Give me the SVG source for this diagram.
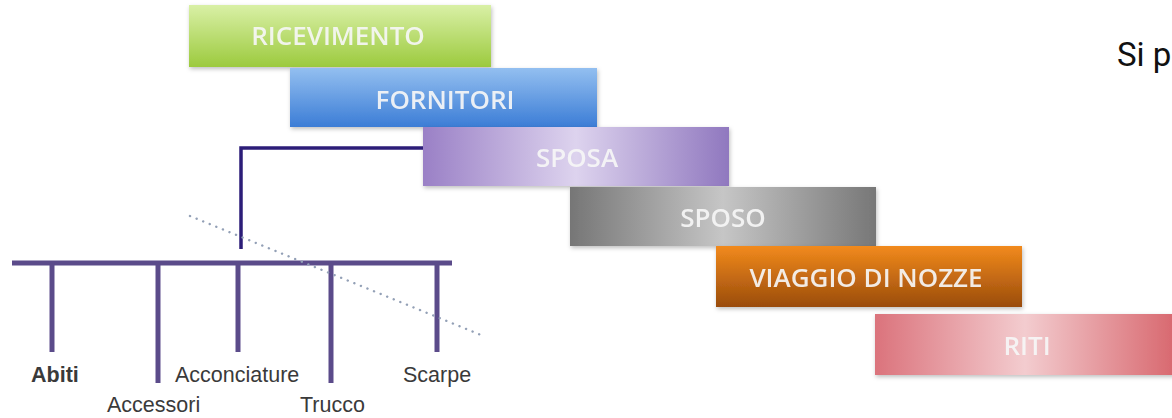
<svg xmlns="http://www.w3.org/2000/svg" width="1172" height="418" viewBox="0 0 1172 418">
  <style>
    .lbl { font-family: "Open Sans", "Liberation Sans", sans-serif; font-size: 26px; font-weight: 600; fill: #f6f6f6; fill-opacity: 0.92; text-anchor: middle; }
    .leaf { font-family: "Liberation Sans", Arial, sans-serif; font-size: 21.5px; fill: #3a3a3a; }
    .trunk { stroke: #5b4b8a; stroke-width: 5; fill: none; }
    .link { stroke: #2c1d78; stroke-width: 3.5; fill: none; }
  </style>
  <defs>
    <filter id="shadow" x="-5%" y="-10%" width="110%" height="130%">
      <feDropShadow dx="1" dy="2" stdDeviation="2" flood-color="#000" flood-opacity="0.25"/>
    </filter>
    <linearGradient id="gGreen" x1="0" y1="0" x2="0" y2="1">
      <stop offset="0" stop-color="#d9f0a6"/>
      <stop offset="1" stop-color="#9cca3e"/>
    </linearGradient>
    <linearGradient id="gBlue" x1="0" y1="0" x2="0" y2="1">
      <stop offset="0" stop-color="#93bff0"/>
      <stop offset="1" stop-color="#3c7dd6"/>
    </linearGradient>
    <linearGradient id="gPurple" x1="0" y1="0" x2="1" y2="0">
      <stop offset="0" stop-color="#9a80c6"/>
      <stop offset="0.5" stop-color="#ddd3ee"/>
      <stop offset="1" stop-color="#9078bf"/>
    </linearGradient>
    <linearGradient id="gGray" x1="0" y1="0" x2="1" y2="0">
      <stop offset="0" stop-color="#767676"/>
      <stop offset="0.5" stop-color="#c6c6c6"/>
      <stop offset="1" stop-color="#777777"/>
    </linearGradient>
    <linearGradient id="gOrange" x1="0" y1="0" x2="0" y2="1">
      <stop offset="0" stop-color="#f28a1c"/>
      <stop offset="1" stop-color="#9a4c0c"/>
    </linearGradient>
    <linearGradient id="gRose" x1="0" y1="0" x2="1" y2="0">
      <stop offset="0" stop-color="#db737c"/>
      <stop offset="0.5" stop-color="#f3cccf"/>
      <stop offset="1" stop-color="#d8686f"/>
    </linearGradient>
  </defs>

  <rect width="1172" height="418" fill="#ffffff"/>

  <!-- stepped phase bars -->
  <g id="ricevimento" filter="url(#shadow)">
    <rect x="189" y="5" width="302" height="62" fill="url(#gGreen)"/>
    <text class="lbl" x="338" y="45" fill="#eef7dc">RICEVIMENTO</text>
  </g>
  <g id="fornitori" filter="url(#shadow)">
    <rect x="290" y="68" width="307" height="59" fill="url(#gBlue)"/>
    <text class="lbl" x="445" y="109">FORNITORI</text>
  </g>
  <g id="sposa" filter="url(#shadow)">
    <rect x="423" y="127" width="306" height="59" fill="url(#gPurple)"/>
    <text class="lbl" x="577" y="167">SPOSA</text>
  </g>
  <g id="sposo" filter="url(#shadow)">
    <rect x="570" y="187" width="306" height="59" fill="url(#gGray)"/>
    <text class="lbl" x="723" y="227">SPOSO</text>
  </g>
  <g id="viaggio" filter="url(#shadow)">
    <rect x="716" y="246" width="306" height="61" fill="url(#gOrange)"/>
    <text class="lbl" x="866" y="287">VIAGGIO DI NOZZE</text>
  </g>
  <g id="riti" filter="url(#shadow)">
    <rect x="875" y="314" width="300" height="61" fill="url(#gRose)"/>
    <text class="lbl" x="1027" y="355">RITI</text>
  </g>

  <!-- breakdown of SPOSA -->
  <g id="connectors">
    <path class="link" d="M423 148 H241 V249"/>
    <line class="trunk" x1="12" y1="263" x2="452" y2="263"/>
    <line class="trunk" x1="52" y1="263" x2="52" y2="352"/>
    <line class="trunk" x1="158" y1="263" x2="158" y2="383"/>
    <line class="trunk" x1="238" y1="263" x2="238" y2="352"/>
    <line class="trunk" x1="331" y1="263" x2="331" y2="383"/>
    <line class="trunk" x1="437" y1="263" x2="437" y2="352"/>
    <line x1="190" y1="216" x2="481" y2="335" stroke="#93a0b6" stroke-width="2.4" stroke-linecap="round" stroke-dasharray="0.1 7"/>
  </g>

  <g id="abiti"><text class="leaf" x="31" y="382" font-weight="bold" fill="#1e1e1e">Abiti</text></g>
  <g id="accessori"><text class="leaf" x="107" y="412">Accessori</text></g>
  <g id="acconciature"><text class="leaf" x="175" y="382">Acconciature</text></g>
  <g id="trucco"><text class="leaf" x="300" y="412">Trucco</text></g>
  <g id="scarpe"><text class="leaf" x="403" y="382">Scarpe</text></g>

  <text x="1117" y="66" font-family="Roboto, 'Liberation Sans', sans-serif" font-size="33" fill="#111111">Si p</text>
</svg>
